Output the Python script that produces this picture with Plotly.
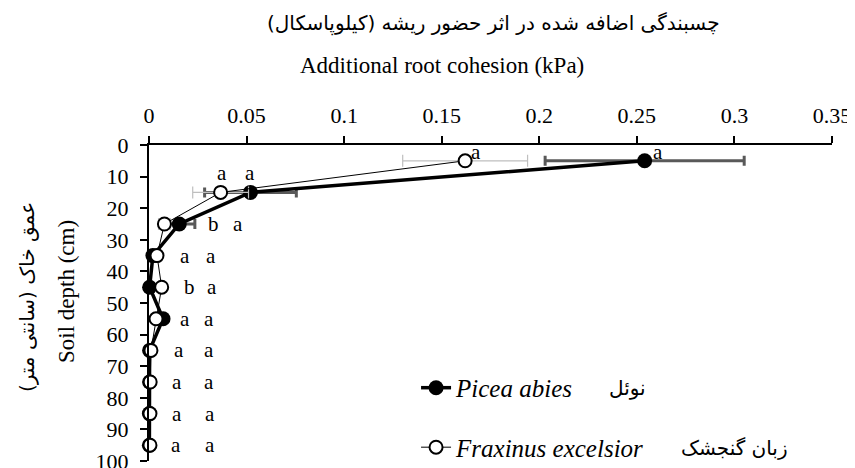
import plotly.graph_objects as go

# ---------------- data ----------------
depth = [5, 15, 25, 35, 45, 55, 65, 75, 85, 95]
picea = [0.254, 0.052, 0.0155, 0.002, 0.0003, 0.0072, 0.0003, 0.0003, 0.0002, 0.0002]
picea_se = [0.051, 0.0235, 0.008, 0.001, 0.0005, 0.001, 0.0003, 0.0002, 0.0001, 0.0001]
fraxinus = [0.162, 0.0367, 0.0079, 0.0041, 0.0065, 0.0036, 0.001, 0.0006, 0.0005, 0.0005]
fraxinus_se = [0.032, 0.0143, 0.003, 0.001, 0.001, 0.001, 0.0003, 0.0002, 0.0001, 0.0001]

letters_fraxinus = ["a", "a", "b", "a", "b", "a", "a", "a", "a", "a"]
letters_picea = ["a", "a", "a", "a", "a", "a", "a", "a", "a", "a"]

x_ticks = [0, 0.05, 0.1, 0.15, 0.2, 0.25, 0.3, 0.35]
y_ticks = [0, 10, 20, 30, 40, 50, 60, 70, 80, 90, 100]

name_picea = "Picea abies"
name_fraxinus = "Fraxinus excelsior"
fa_picea = "نوئل"
fa_fraxinus = "زبان گنجشک"
title_en = "Additional root cohesion (kPa)"
title_fa = "چسبندگی اضافه شده در اثر حضور ریشه (کیلوپاسکال)"
ytitle_en = "Soil depth (cm)"
ytitle_fa = "عمق خاک (سانتی متر)"

# label placement (data coordinates) for significance letters
lab_x_fraxinus = [0.1676, 0.0373, 0.0328, 0.0184, 0.0205, 0.0184, 0.0154, 0.0143, 0.0142, 0.0138]
lab_x_picea = [0.2608, 0.0518, 0.0456, 0.0316, 0.0321, 0.0307, 0.0307, 0.0307, 0.0313, 0.0313]
lab_y = [2.3, 8.8, 25, 35, 45, 55, 65, 75, 85, 95]

SERIF = "Liberation Serif, Times New Roman, serif"
ARABIC = "DejaVu Sans, sans-serif"
RLM = "\u200f"

fig = go.Figure()

fig.add_trace(go.Scatter(
    x=picea, y=depth, mode="lines+markers", name=f"<i>{name_picea}</i>",
    legendgroup="p",
    line=dict(color="black", width=3.5),
    marker=dict(symbol="circle", size=15, color="black"),
    error_x=dict(type="data", array=picea_se, color="#595959", thickness=3, width=5),
    cliponaxis=False,
))
fig.add_trace(go.Scatter(
    x=fraxinus, y=depth, mode="lines+markers", name=f"<i>{name_fraxinus}</i>",
    legendgroup="f",
    line=dict(color="black", width=1),
    marker=dict(symbol="circle", size=13, color="white", line=dict(color="black", width=2)),
    error_x=dict(type="data", array=fraxinus_se, color="#BFBFBF", thickness=1.2, width=6),
    cliponaxis=False,
))

annotations = []
for lx, ly, t in zip(lab_x_fraxinus, lab_y, letters_fraxinus):
    annotations.append(dict(x=lx, y=ly, xref="x", yref="y", text=t, showarrow=False,
                            xanchor="center", yanchor="middle",
                            font=dict(family=SERIF, size=21, color="black")))
for lx, ly, t in zip(lab_x_picea, lab_y, letters_picea):
    annotations.append(dict(x=lx, y=ly, xref="x", yref="y", text=t, showarrow=False,
                            xanchor="center", yanchor="middle",
                            font=dict(family=SERIF, size=21, color="black")))


def paper_note(x, y, text, family, size, angle=0):
    return dict(x=x, y=y, xref="paper", yref="paper", text=text, showarrow=False,
                xanchor="center", yanchor="middle", textangle=angle,
                font=dict(family=family, size=size, color="black"))


annotations += [
    paper_note(0.4297, 1.253, title_en, SERIF, 23),
    paper_note(0.5037, 1.383, RLM + title_fa + RLM, ARABIC, 20),
    paper_note(-0.120, 0.535, ytitle_en, SERIF, 23, -90),
    paper_note(-0.1786, 0.519, RLM + ytitle_fa + RLM, ARABIC, 20, -90),
    paper_note(0.700, 0.231, RLM + fa_picea + RLM, ARABIC, 20),
    paper_note(0.857, 0.041, RLM + fa_fraxinus + RLM, ARABIC, 20),
]

axis_common = dict(
    showline=True, linecolor="black", linewidth=2,
    ticks="outside", ticklen=7, tickwidth=2, tickcolor="black",
    showgrid=False, zeroline=False, ticklabeloverflow="allow",
    tickfont=dict(family=SERIF, size=22, color="black"),
)

fig.update_layout(
    width=847, height=460,
    margin=dict(l=141, r=23, t=137, b=7, autoexpand=False),
    paper_bgcolor="white", plot_bgcolor="white",
    xaxis=dict(side="top", range=[0, 0.35], tickvals=x_ticks,
               ticktext=[f"{v:g}" for v in x_ticks], ticklabelstandoff=4, **axis_common),
    yaxis=dict(range=[100, 0], tickvals=y_ticks, ticktext=[str(v) for v in y_ticks],
               ticklabelstandoff=7, **axis_common),
    showlegend=True,
    legend=dict(x=0.391, y=0.304, xanchor="left", yanchor="top",
                traceorder="grouped", tracegroupgap=24,
                bgcolor="rgba(0,0,0,0)",
                font=dict(family=SERIF, size=25, color="black")),
    annotations=annotations,
)

fig.write_html("out.html")
